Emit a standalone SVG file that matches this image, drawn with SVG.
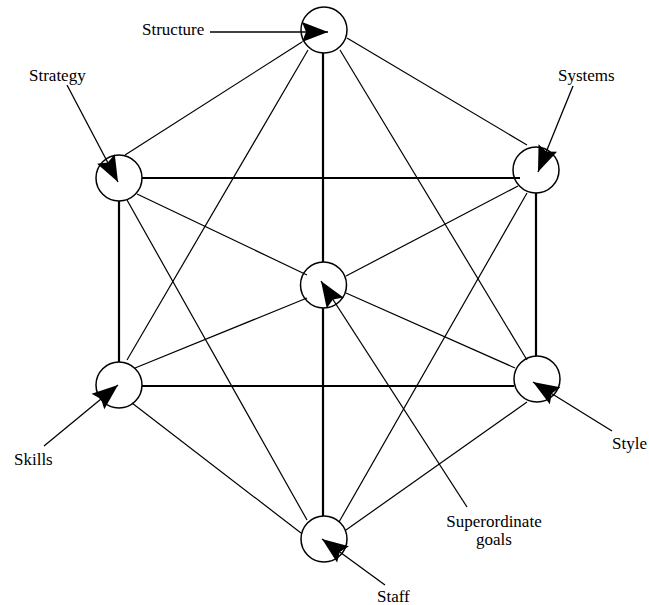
<svg xmlns="http://www.w3.org/2000/svg" width="649" height="605" viewBox="0 0 649 605">
<style>
.thin{stroke:#000;stroke-width:1.2;fill:none}
.thick{stroke:#000;stroke-width:2.2;fill:none}
.node{fill:#fff;stroke:#000;stroke-width:1.5}
.ptr{stroke:#000;stroke-width:1.3;fill:none;marker-end:url(#ah)}
text{font-family:"Liberation Serif","Times New Roman",serif;font-size:17px;fill:#000}
</style>
<defs>
<marker id="ah" viewBox="-27 -11 28 22" refX="0" refY="0" markerWidth="28" markerHeight="22" markerUnits="userSpaceOnUse" orient="auto">
<path d="M0,0 L-26,-10 L-22,0 L-26,10 Z" fill="#000"/>
</marker>
</defs>
<g id="structure"><circle class="node" cx="324" cy="30" r="23"/><line class="ptr" x1="210" y1="32" x2="328" y2="32"/><text x="142" y="35">Structure</text></g>
<g id="strategy"><circle class="node" cx="119" cy="178" r="23"/><line class="ptr" x1="67" y1="85" x2="118" y2="182"/><text x="29" y="81">Strategy</text></g>
<g id="systems"><circle class="node" cx="536" cy="170" r="23"/><line class="ptr" x1="573" y1="86" x2="538" y2="172"/><text x="558" y="81">Systems</text></g>
<g id="superordinate"><circle class="node" cx="323.5" cy="285" r="23"/><line class="ptr" x1="467" y1="507" x2="321" y2="281"/><text x="494" y="527" text-anchor="middle">Superordinate</text><text x="494" y="545" text-anchor="middle">goals</text></g>
<g id="skills"><circle class="node" cx="119" cy="385" r="23"/><line class="ptr" x1="44" y1="446" x2="118" y2="385"/><text x="14" y="465">Skills</text></g>
<g id="style"><circle class="node" cx="537" cy="379" r="23"/><line class="ptr" x1="612" y1="431" x2="533" y2="382"/><text x="612" y="449">Style</text></g>
<g id="staff"><circle class="node" cx="324" cy="539" r="23"/><line class="ptr" x1="385" y1="585" x2="322" y2="539"/><text x="377" y="602">Staff</text></g>
<g id="connectors">
<line class="thin" x1="302" y1="42" x2="125" y2="155"/>
<line class="thin" x1="347" y1="38" x2="527" y2="145"/>
<line class="thin" x1="308" y1="50" x2="127" y2="360"/>
<line class="thin" x1="340" y1="50" x2="527" y2="360"/>
<line class="thin" x1="137" y1="194" x2="307" y2="275"/>
<line class="thin" x1="127" y1="200" x2="307" y2="520"/>
<line class="thin" x1="518" y1="186" x2="346" y2="276"/>
<line class="thin" x1="527" y1="193" x2="339" y2="522"/>
<line class="thin" x1="135" y1="368" x2="307" y2="298"/>
<line class="thin" x1="132" y1="403" x2="301" y2="533"/>
<line class="thin" x1="515" y1="368" x2="346" y2="293"/>
<line class="thin" x1="527" y1="402" x2="346" y2="530"/>
<line class="thick" x1="142" y1="178" x2="520" y2="178"/>
<line class="thick" x1="142" y1="386" x2="514" y2="386"/>
<line class="thick" x1="119" y1="201" x2="119" y2="362"/>
<line class="thick" x1="536" y1="193" x2="536" y2="356"/>
<line class="thick" x1="323" y1="53" x2="323" y2="262"/>
<line class="thick" x1="323" y1="308" x2="323" y2="516"/>
</g>
</svg>
